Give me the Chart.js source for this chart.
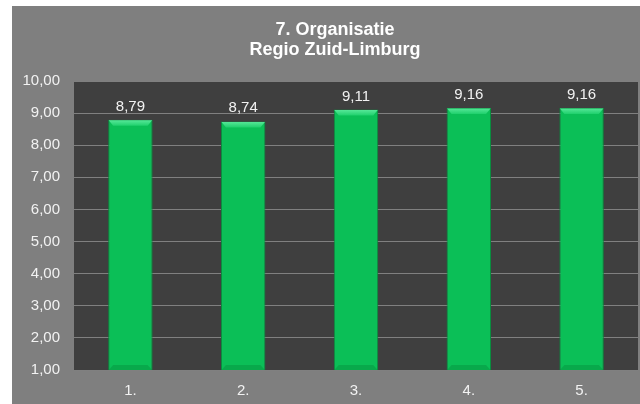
<!DOCTYPE html>
<html>
<head>
<meta charset="utf-8">
<style>
  html, body { margin: 0; padding: 0; background: #ffffff; }
  #wrap { width: 640px; height: 404px; }
</style>
<script src="https://cdn.jsdelivr.net/npm/chart.js@4"></script>
</head>
<body>
<div id="wrap"><canvas id="chart" width="640" height="404"></canvas></div>
<script>
// Chart data
const categories = ['1.', '2.', '3.', '4.', '5.'];
const scores = [8.79, 8.74, 9.11, 9.16, 9.16];
const titleLines = ['7. Organisatie', 'Regio Zuid-Limburg'];
const yMin = 1;
const yMax = 10;

const FONT = "'Liberation Sans', Arial, sans-serif";
const fmt = v => Number(v).toFixed(2).replace('.', ',');

// Gray panel, white margin and dark plot background
const backdrop = {
  id: 'backdrop',
  beforeDraw(chart) {
    const { ctx, chartArea: a } = chart;
    ctx.save();
    ctx.fillStyle = '#ffffff';
    ctx.fillRect(0, 0, chart.width, chart.height);
    ctx.fillStyle = '#7f7f7f';
    ctx.fillRect(12, 6, chart.width - 12, chart.height - 6);
    ctx.fillStyle = '#3f3f3f';
    ctx.fillRect(a.left, a.top, a.right - a.left, a.bottom - a.top);
    ctx.restore();
  },
  afterLayout(chart) {
    // nudge title centre a little to the right
    if (chart.titleBlock) chart.titleBlock.left += 20;
  }
};

// Bevelled bar faces and value labels
const barDecor = {
  id: 'barDecor',
  afterDatasetsDraw(chart) {
    const { ctx, chartArea: a } = chart;
    const meta = chart.getDatasetMeta(0);
    ctx.save();
    meta.data.forEach((bar, i) => {
      const { x, y, width } = bar.getProps(['x', 'y', 'width'], true);
      const base = a.bottom;
      const l = x - width / 2, r = x + width / 2;
      const b = 5;
      // top bevel
      let g = ctx.createLinearGradient(0, y, 0, y + b + 1);
      g.addColorStop(0, '#5ae99b');
      g.addColorStop(1, '#1fd06c');
      ctx.fillStyle = g;
      ctx.beginPath();
      ctx.moveTo(l + 0.5, y + 0.5);
      ctx.lineTo(r - 0.5, y + 0.5);
      ctx.lineTo(r - b, y + b + 1);
      ctx.lineTo(l + b, y + b + 1);
      ctx.closePath();
      ctx.fill();
      // bottom bevel
      ctx.fillStyle = 'rgba(4,120,50,0.3)';
      ctx.beginPath();
      ctx.moveTo(l + 0.5, base);
      ctx.lineTo(r - 0.5, base);
      ctx.lineTo(r - b, base - b);
      ctx.lineTo(l + b, base - b);
      ctx.closePath();
      ctx.fill();
      // value label
      ctx.fillStyle = '#f2f2f2';
      ctx.font = '15px ' + FONT;
      ctx.textAlign = 'center';
      ctx.textBaseline = 'alphabetic';
      ctx.fillText(fmt(scores[i]), x, y - 9);
    });
    ctx.restore();
  }
};

new Chart(document.getElementById('chart'), {
  type: 'bar',
  data: {
    labels: categories,
    datasets: [{
      data: scores,
      barPercentage: 0.394,
      categoryPercentage: 1,
      borderWidth: 1,
      borderColor: '#0a8c3e',
      borderSkipped: false,
      backgroundColor(ctx) {
        const el = ctx.element;
        if (!el || el.width === undefined) return '#0bbf57';
        const { x, width } = el.getProps(['x', 'width'], true);
        const g = ctx.chart.ctx.createLinearGradient(x - width / 2, 0, x + width / 2, 0);
        g.addColorStop(0, '#079b43');
        g.addColorStop(0.14, '#0bbd56');
        g.addColorStop(0.86, '#0bbd56');
        g.addColorStop(1, '#079b43');
        return g;
      }
    }]
  },
  options: {
    responsive: false,
    animation: false,
    devicePixelRatio: 1,
    layout: { padding: { left: 12, top: 6, right: 2, bottom: 0 } },
    plugins: {
      legend: { display: false },
      tooltip: { enabled: false },
      title: {
        display: true,
        text: titleLines,
        color: '#ffffff',
        font: { family: FONT, size: 18, weight: 'bold', lineHeight: 20 / 18 },
        padding: { top: 14, bottom: 21 }
      }
    },
    scales: {
      x: {
        grid: { display: false },
        border: { display: false },
        ticks: { color: '#f2f2f2', font: { family: FONT, size: 15 }, padding: 4 },
        afterFit(s) { s.height = 34; }
      },
      y: {
        min: yMin,
        max: yMax,
        grid: { color: '#808080', lineWidth: 1, drawTicks: false },
        border: { display: false },
        ticks: {
          stepSize: 1,
          color: '#f2f2f2',
          font: { family: FONT, size: 15 },
          padding: 14,
          callback: v => fmt(v)
        },
        afterFit(s) { s.width = 62; }
      }
    }
  },
  plugins: [backdrop, barDecor]
});
</script>
</body>
</html>
